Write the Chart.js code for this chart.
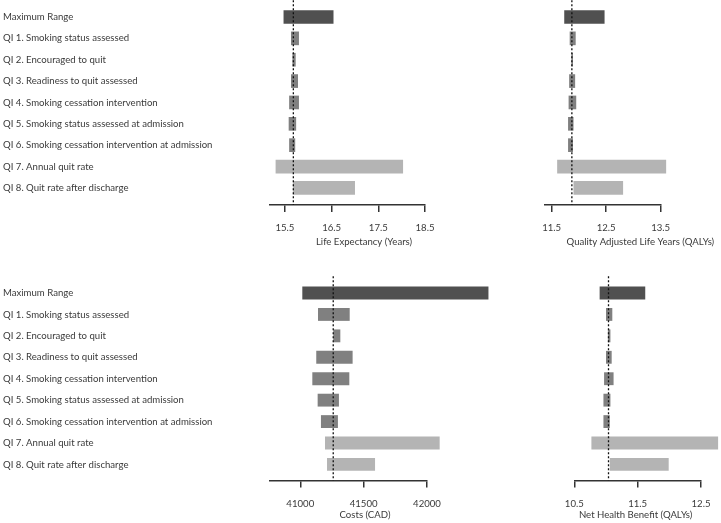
<!DOCTYPE html>
<html>
<head>
<meta charset="utf-8">
<script src="https://cdn.jsdelivr.net/npm/chart.js@4"></script>
<style>
  html, body { margin: 0; padding: 0; background: #fff; }
  body { width: 721px; height: 523px; position: relative; overflow: hidden; }
  .panel { position: absolute; }
</style>
</head>
<body>
<div class="panel" style="left:0;top:0;width:445px;height:250px"><canvas id="lifeChart"></canvas></div>
<div class="panel" style="left:530px;top:0;width:191px;height:250px"><canvas id="qalyChart"></canvas></div>
<div class="panel" style="left:0;top:260px;width:530px;height:263px"><canvas id="costChart"></canvas></div>
<div class="panel" style="left:545px;top:260px;width:176px;height:263px"><canvas id="nhbChart"></canvas></div>
<script>
const categories = [
  'Maximum Range',
  'QI 1. Smoking status assessed',
  'QI 2. Encouraged to quit',
  'QI 3. Readiness to quit assessed',
  'QI 4. Smoking cessation intervention',
  'QI 5. Smoking status assessed at admission',
  'QI 6. Smoking cessation intervention at admission',
  'QI 7. Annual quit rate',
  'QI 8. Quit rate after discharge'
];

// Life expectancy (years)
const lifeLow  = [15.47, 15.63, 15.66, 15.63, 15.59, 15.58, 15.59, 15.30, 15.67];
const lifeHigh = [16.54, 15.80, 15.73, 15.78, 15.80, 15.74, 15.72, 18.03, 17.00];
const lifeBase = 15.68;
const lifeTicks = [15.5, 16.5, 17.5, 18.5];

// QALYs
const qalyLow  = [11.73, 11.83, 11.86, 11.82, 11.81, 11.80, 11.80, 11.60, 11.90];
const qalyHigh = [12.47, 11.94, 11.89, 11.93, 11.95, 11.90, 11.89, 13.60, 12.81];
const qalyBase = 11.87;
const qalyTicks = [11.5, 12.5, 13.5];

// Costs (CAD)
const costLow  = [41016, 41140, 41260, 41126, 41095, 41137, 41163, 41195, 41211];
const costHigh = [42485, 41390, 41316, 41413, 41387, 41305, 41297, 42100, 41590];
const costBase = 41260;
const costTicks = [41000, 41500, 42000];

// Net health benefit (QALYs)
const nhbLow  = [10.90, 11.00, 11.03, 11.00, 10.97, 10.96, 10.96, 10.77, 11.06];
const nhbHigh = [11.62, 11.10, 11.07, 11.09, 11.12, 11.07, 11.06, 12.77, 11.99];
const nhbBase = 11.04;
const nhbTicks = [10.5, 11.5, 12.5];

const barColors = ['#505050', '#808080', '#808080', '#808080', '#808080', '#808080', '#808080', '#b4b4b4', '#b4b4b4'];
const fontFamily = 'Lato, "Open Sans", sans-serif';
const textColor = '#3a3a3a';
const axisColor = '#333333';

// dotted reference line at the base-case value, row labels and axis title
const panelDecor = {
  id: 'panelDecor',
  afterDatasetsDraw(chart, args, opts) {
    const ctx = chart.ctx;
    const xs = chart.scales.x, ys = chart.scales.y;
    const { top, bottom } = chart.chartArea;
    const x = xs.getPixelForValue(opts.base);
    ctx.save();
    ctx.strokeStyle = '#111';
    ctx.lineWidth = 1.3;
    ctx.setLineDash([2, 2]);
    ctx.beginPath();
    ctx.moveTo(x, top - opts.above);
    ctx.lineTo(x, bottom);
    ctx.stroke();
    ctx.setLineDash([]);
    ctx.fillStyle = textColor;
    ctx.font = '9.6px ' + fontFamily;
    ctx.textBaseline = 'middle';
    if (opts.showLabels) {
      ctx.textAlign = 'left';
      categories.forEach((c, i) => ctx.fillText(c, 3, ys.getPixelForValue(i)));
    }
    ctx.textAlign = 'center';
    ctx.fillText(opts.title, (xs.left + xs.right) / 2 + opts.titleShift, xs.bottom - opts.titleUp);
    ctx.restore();
  }
};

function makePanel(id, cfg) {
  const ctx = document.getElementById(id).getContext('2d');
  return new Chart(ctx, {
    type: 'bar',
    data: {
      datasets: [{
        data: categories.map((c, i) => ({ x: [cfg.low[i], cfg.high[i]], y: i })),
        backgroundColor: barColors,
        borderWidth: 0,
        barPercentage: 0.8,
        categoryPercentage: 1,
        clip: false
      }]
    },
    plugins: [panelDecor],
    options: {
      indexAxis: 'y',
      responsive: true,
      maintainAspectRatio: false,
      animation: false,
      layout: { padding: cfg.padding },
      scales: {
        y: {
          type: 'linear',
          reverse: true,
          offset: false,
          min: -0.5,
          max: cfg.rowMax,
          display: false
        },
        x: {
          type: 'linear',
          min: cfg.min,
          max: cfg.ticks[cfg.ticks.length - 1],
          afterBuildTicks: (scale) => {
            scale.ticks = cfg.ticks.map(v => ({ value: v }));
          },
          afterFit: (scale) => { scale.height = cfg.axisHeight; },
          grid: {
            drawOnChartArea: false,
            drawTicks: true,
            tickLength: 7,
            color: axisColor,
            lineWidth: 1.5
          },
          border: { display: true, color: axisColor, width: 1.5 },
          ticks: {
            padding: 10.5,
            color: textColor,
            font: { family: fontFamily, size: 9.6 },
            callback: (v) => String(v)
          }
        }
      },
      plugins: {
        legend: { display: false },
        tooltip: { enabled: false },
        panelDecor: {
          base: cfg.base, above: 6, showLabels: cfg.showLabels,
          title: cfg.title, titleShift: cfg.titleShift, titleUp: cfg.titleUp
        }
      }
    }
  });
}

makePanel('lifeChart', {
  low: lifeLow, high: lifeHigh, base: lifeBase, ticks: lifeTicks, min: 15.18,
  title: 'Life Expectancy (Years)', showLabels: true, rowMax: 8.8,
  axisHeight: 45, titleUp: 8.5, titleShift: 16.5,
  padding: { left: 270, right: 18, top: 6.3, bottom: 0 }
});

makePanel('qalyChart', {
  low: qalyLow, high: qalyHigh, base: qalyBase, ticks: qalyTicks, min: 11.377,
  title: 'Quality Adjusted Life Years (QALYs)', showLabels: false, rowMax: 8.8,
  axisHeight: 45, titleUp: 8.5, titleShift: 37.5,
  padding: { left: 15, right: 60.3, top: 6.3, bottom: 0 }
});

makePanel('costChart', {
  low: costLow, high: costHigh, base: costBase, ticks: costTicks, min: 40761,
  title: 'Costs (CAD)', showLabels: true, rowMax: 8.75,
  axisHeight: 42.5, titleUp: 7.7, titleShift: 16.5,
  padding: { left: 270, right: 103, top: 22.3, bottom: 0 }
});

makePanel('nhbChart', {
  low: nhbLow, high: nhbHigh, base: nhbBase, ticks: nhbTicks, min: 10.5,
  title: 'Net Health Benefit (QALYs)', showLabels: false, rowMax: 8.75,
  axisHeight: 42.5, titleUp: 7.7, titleShift: -2,
  padding: { left: 29.3, right: 20, top: 22.3, bottom: 0 }
});
</script>
</body>
</html>
